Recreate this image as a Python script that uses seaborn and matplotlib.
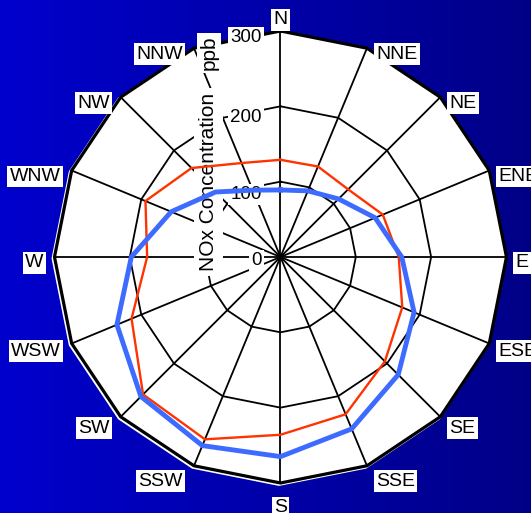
import numpy as np
import pandas as pd
import matplotlib
matplotlib.use("Agg")
import matplotlib.pyplot as plt
import matplotlib.font_manager as fm
from matplotlib.transforms import offset_copy
import seaborn as sns

# Wind-sector NOx concentrations (ppb)
directions = ["N", "NNE", "NE", "ENE", "E", "ESE", "SE", "SSE",
              "S", "SSW", "SW", "WSW", "W", "WNW", "NW", "NNW"]
nox_a = [129, 130, 127, 147, 157, 175, 196, 226,
         236, 262, 258, 214, 177, 194, 167, 135]
nox_b = [89, 95, 109, 136, 161, 192, 221, 247,
         265, 271, 262, 235, 198, 157, 122, 96]
ring_values = [0, 100, 200, 300]
ring_labels = ["0", "100", "200", "300"]
axis_title = "NOx Concentration"
axis_units = "ppb"

# prefer a narrow Helvetica-like face when one is installed
narrow_file = None
for f in fm.fontManager.ttflist:
    base = f.fname.lower().rsplit("/", 1)[-1]
    if "liberationsansnarrow-regular" in base or base == "arialn.ttf":
        narrow_file = f.fname
        break
if narrow_file:
    fm.fontManager.addfont(narrow_file)
    family = fm.FontProperties(fname=narrow_file).get_name()
    fs_dir, fs_tick, fs_title = 16.5, 15.5, 15.5
else:
    family = "Liberation Sans"
    fs_dir, fs_tick, fs_title = 14.0, 13.5, 15.0
plt.rcParams["font.family"] = [family, "DejaVu Sans"]

rmax = ring_values[-1]
n = len(directions)
theta = np.arange(n) * 2 * np.pi / n
theta_closed = np.append(theta, 2 * np.pi)

fig = plt.figure(figsize=(5.31, 5.13), dpi=100)

# blue horizontal gradient behind everything
bg = fig.add_axes([0, 0, 1, 1])
grad = np.zeros((2, 256, 3))
grad[:, :, 2] = np.linspace(205, 135, 256)[None, :] / 255.0
bg.imshow(grad, aspect="auto", extent=[0, 1, 0, 1], interpolation="bilinear")
bg.set_axis_off()

ax = fig.add_axes([0.1026, 0.0585, 0.8512, 0.8811], projection="polar")
ax.set_theta_zero_location("N")
ax.set_theta_direction(-1)
ax.set_ylim(0, rmax)
ax.grid(False)
ax.set_xticks([])
ax.set_yticks([])
ax.spines["polar"].set_visible(False)
ax.patch.set_visible(False)

# polygon plot area
ax.fill(theta_closed, [rmax] * (n + 1), color="white", zorder=1, clip_on=False)
shade = offset_copy(ax.transData, fig=fig, x=-1.4, y=-1.4, units="dots")
ax.plot(theta_closed, [rmax] * (n + 1), color="white", lw=2.2,
        transform=shade, zorder=1.5, clip_on=False)

# spokes and polygon rings
for t in theta:
    ax.plot([t, t], [0, rmax], color="black", lw=1.3, zorder=2, clip_on=False)
for rv in ring_values[1:-1]:
    ax.plot(theta_closed, [rv] * (n + 1), color="black", lw=1.3, zorder=2,
            clip_on=False)
ax.plot(theta_closed, [rmax] * (n + 1), color="black", lw=2.3, zorder=2.5,
        clip_on=False, solid_joinstyle="miter")

box = dict(boxstyle="square,pad=0.12", fc="white", ec="none")

# radial tick labels along the north spoke
tick_dy = [-4, -13, -11, -6.5]
for rv, lab, dy in zip(ring_values, ring_labels, tick_dy):
    tr = offset_copy(ax.transData, fig=fig, x=-18.5, y=dy, units="dots")
    ax.text(0, rv, lab, transform=tr, ha="right", va="center",
            fontsize=fs_tick, bbox=box, zorder=3)

# axis title and units, rotated along the north spoke
ax.text(0.341, 0.666, axis_title, transform=ax.transAxes, rotation=90,
        ha="center", va="center", fontsize=fs_title,
        bbox=dict(boxstyle="square,pad=0.25", fc="white", ec="none"), zorder=3)
ax.text(0.342, 0.951, axis_units, transform=ax.transAxes, rotation=90,
        ha="center", va="center", fontsize=fs_title,
        bbox=dict(boxstyle="square,pad=0.12", fc="white", ec="none"), zorder=3)

# compass labels around the outer ring
for t, lab in zip(theta, directions):
    s, c = np.sin(t), np.cos(t)
    if abs(s) < 1e-9:
        dx, dy, ha = 0, (11 if c > 0 else -25), "center"
    elif s > 0:
        dx, dy, ha = 9, -(6 + 11 * max(0.0, -c) ** 2), "left"
    else:
        dx, dy, ha = -11, -(6 + 11 * max(0.0, -c) ** 2), "right"
    tr = offset_copy(ax.transData, fig=fig, x=dx, y=dy, units="dots")
    ax.text(t, rmax, lab, transform=tr, ha=ha, va="center",
            fontsize=fs_dir, bbox=box, zorder=4, clip_on=False)

# concentration polygons
df_a = pd.DataFrame({"theta": theta_closed, "nox": nox_a + nox_a[:1]})
df_b = pd.DataFrame({"theta": theta_closed, "nox": nox_b + nox_b[:1]})
sns.lineplot(data=df_a, x="theta", y="nox", ax=ax, sort=False, estimator=None,
             color="#FF3300", lw=1.7, zorder=5, clip_on=False)
sns.lineplot(data=df_b, x="theta", y="nox", ax=ax, sort=False, estimator=None,
             color="#3D6BFF", lw=3.5, zorder=6, clip_on=False)
ax.set_xlabel("")
ax.set_ylabel("")
ax.set_xticks([])
ax.set_yticks([])
ax.set_ylim(0, rmax)

fig.savefig("out.png", dpi=100)
